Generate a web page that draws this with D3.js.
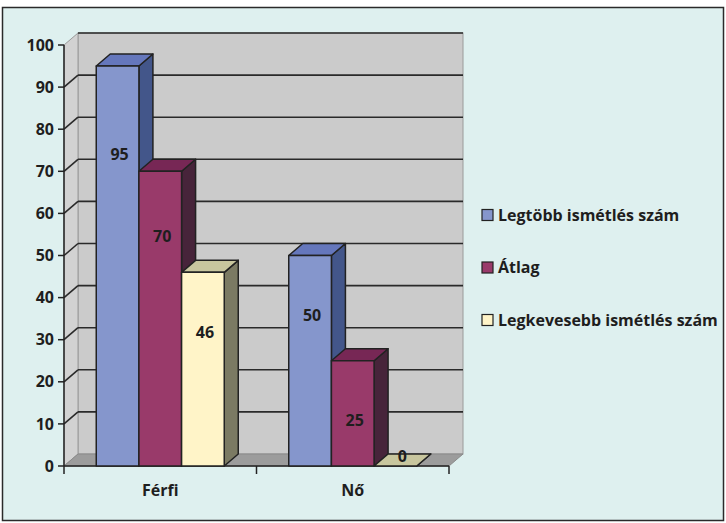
<!DOCTYPE html>
<html>
  <head>
    <meta charset="utf-8">
    <title>Ismétlések</title>
    <script src="https://d3js.org/d3.v7.min.js"></script>
    <style>
      body { margin: 0; background: #fff; }
      text { font-family: "Open Sans", sans-serif; font-weight: bold; fill: #1e1e1e; }
      .tick-label { font-size: 16px; }
      .value-label { font-size: 16px; }
      .legend text { font-size: 16px; }
    </style>
  </head>
  <body>
    <svg width="726" height="523"></svg>
    <script>
      const categories = ["Férfi", "Nő"];
      const seriesNames = ["Legtöbb ismétlés szám", "Átlag", "Legkevesebb ismétlés szám"];
      const legtobb = [95, 50];
      const atlag = [70, 25];
      const legkevesebb = [46, 0];
      const yTicks = [0, 10, 20, 30, 40, 50, 60, 70, 80, 90, 100];

      const seriesValues = [legtobb, atlag, legkevesebb];
      const colors = [
        { front: "#8596CC", top: "#6577BC", side: "#43568A" },
        { front: "#993A6A", top: "#772755", side: "#47243A" },
        { front: "#FFF4C8", top: "#C8C69E", side: "#7B7A63" }
      ];

      const svg = d3.select("svg");
      const dx = 14, dy = 12; // depth offset of the 3d box

      // chart frame
      svg.append("rect")
        .attr("x", 2.5).attr("y", 7.5)
        .attr("width", 721).attr("height", 513)
        .attr("fill", "#DEF0EF")
        .attr("stroke", "#2a2a2a")
        .attr("stroke-width", 1.5);

      const x = d3.scaleBand()
        .domain(categories)
        .range([64, 449]);
      const y = d3.scaleLinear()
        .domain([0, 100])
        .range([466, 45]);
      const inner = d3.scaleBand()
        .domain(seriesNames)
        .range([-64, 64]);

      const x0 = x.range()[0], x1 = x.range()[1];
      const yTop = y(100), yBase = y(0);

      // back wall
      svg.append("rect")
        .attr("x", x0 + dx).attr("y", yTop - dy)
        .attr("width", x1 - x0).attr("height", yBase - yTop)
        .attr("fill", "#CBCBCB")
        .attr("stroke", "#9a9a9a");
      // left wall
      svg.append("path")
        .attr("d", `M${x0},${yBase} L${x0},${yTop} L${x0 + dx},${yTop - dy} L${x0 + dx},${yBase - dy} Z`)
        .attr("fill", "#D2D2D2")
        .attr("stroke", "#9a9a9a");
      // floor
      svg.append("path")
        .attr("d", `M${x0},${yBase} L${x0 + dx},${yBase - dy} L${x1 + dx},${yBase - dy} L${x1},${yBase} Z`)
        .attr("fill", "#9C9C9C")
        .attr("stroke", "#8a8a8a");

      // gridlines on back wall and left wall
      const grid = svg.append("g");
      grid.selectAll(".gl")
        .data(yTicks.filter(d => d > 0))
        .enter().append("line")
          .attr("x1", x0 + dx).attr("x2", x1 + dx)
          .attr("y1", d => y(d) - dy).attr("y2", d => y(d) - dy)
          .attr("stroke", "#2a2a2a").attr("stroke-width", 1.6);
      grid.selectAll(".gd")
        .data(yTicks.filter(d => d > 0 && d < 100))
        .enter().append("line")
          .attr("x1", x0).attr("x2", x0 + dx)
          .attr("y1", d => y(d)).attr("y2", d => y(d) - dy)
          .attr("stroke", "#2a2a2a").attr("stroke-width", 1.6);

      // y axis
      const yAxis = svg.append("g");
      yAxis.append("line")
        .attr("x1", x0).attr("x2", x0)
        .attr("y1", yTop).attr("y2", yBase)
        .attr("stroke", "#222").attr("stroke-width", 1.5);
      yAxis.selectAll(".yt")
        .data(yTicks)
        .enter().append("line")
          .attr("x1", x0 - 6).attr("x2", x0)
          .attr("y1", d => y(d)).attr("y2", d => y(d))
          .attr("stroke", "#222").attr("stroke-width", 1.5);
      yAxis.selectAll(".tick-label")
        .data(yTicks)
        .enter().append("text")
          .attr("class", "tick-label")
          .attr("x", x0 - 10)
          .attr("y", d => y(d))
          .attr("dy", "0.35em")
          .attr("text-anchor", "end")
          .text(d => d);

      // x axis
      const xAxis = svg.append("g");
      xAxis.append("line")
        .attr("x1", x0).attr("x2", x1)
        .attr("y1", yBase).attr("y2", yBase)
        .attr("stroke", "#222").attr("stroke-width", 1.5);
      xAxis.selectAll(".xt")
        .data([x0].concat(categories.map(c => x(c) + x.bandwidth())))
        .enter().append("line")
          .attr("x1", d => d).attr("x2", d => d)
          .attr("y1", yBase).attr("y2", yBase + 8)
          .attr("stroke", "#222").attr("stroke-width", 1.5);
      xAxis.selectAll(".cat")
        .data(categories)
        .enter().append("text")
          .attr("class", "tick-label")
          .attr("x", d => x(d) + x.bandwidth() / 2)
          .attr("y", 496)
          .attr("text-anchor", "middle")
          .text(d => d);

      // bars (left to right so fronts cover previous sides)
      const bars = [];
      categories.forEach((c, ci) => {
        seriesNames.forEach((s, si) => {
          bars.push({ cat: c, series: s, si: si, value: seriesValues[si][ci] });
        });
      });

      const barG = svg.append("g");
      bars.forEach(b => {
        const bx = x(b.cat) + x.bandwidth() / 2 + inner(b.series);
        const bw = inner.bandwidth();
        const by = y(b.value);
        const col = colors[b.si];
        const g = barG.append("g")
          .attr("stroke", "#222")
          .attr("stroke-width", 1.5)
          .attr("stroke-linejoin", "round");
        g.append("path")
          .attr("d", `M${bx + bw},${yBase} L${bx + bw},${by} L${bx + bw + dx},${by - dy} L${bx + bw + dx},${yBase - dy} Z`)
          .attr("fill", col.side);
        g.append("path")
          .attr("d", `M${bx},${by} L${bx + dx},${by - dy} L${bx + bw + dx},${by - dy} L${bx + bw},${by} Z`)
          .attr("fill", col.top);
        if (b.value > 0) {
          g.append("rect")
            .attr("x", bx).attr("y", by)
            .attr("width", bw).attr("height", yBase - by)
            .attr("fill", col.front);
        }
        // value label
        let ly, lx = bx + bw / 2 + 2;
        if (b.value > 0) {
          ly = by + Math.max(60, 0.22 * (yBase - by));
        } else {
          ly = yBase - 10;
          lx = bx + bw / 2 + dx / 2;
        }
        barG.append("text")
          .attr("class", "value-label")
          .attr("x", lx)
          .attr("y", ly)
          .attr("dy", "0.35em")
          .attr("text-anchor", "middle")
          .text(b.value);
      });

      // legend
      const legend = svg.append("g").attr("class", "legend");
      const items = legend.selectAll("g")
        .data(seriesNames)
        .enter().append("g")
          .attr("transform", (d, i) => `translate(482, ${215 + i * 52.5})`);
      items.append("rect")
        .attr("x", 0).attr("y", -5.5)
        .attr("width", 11).attr("height", 11)
        .attr("fill", (d, i) => colors[i].front)
        .attr("stroke", "#222").attr("stroke-width", 1.2);
      items.append("text")
        .attr("x", 16)
        .attr("dy", "0.35em")
        .text(d => d);
    </script>
  </body>
</html>
